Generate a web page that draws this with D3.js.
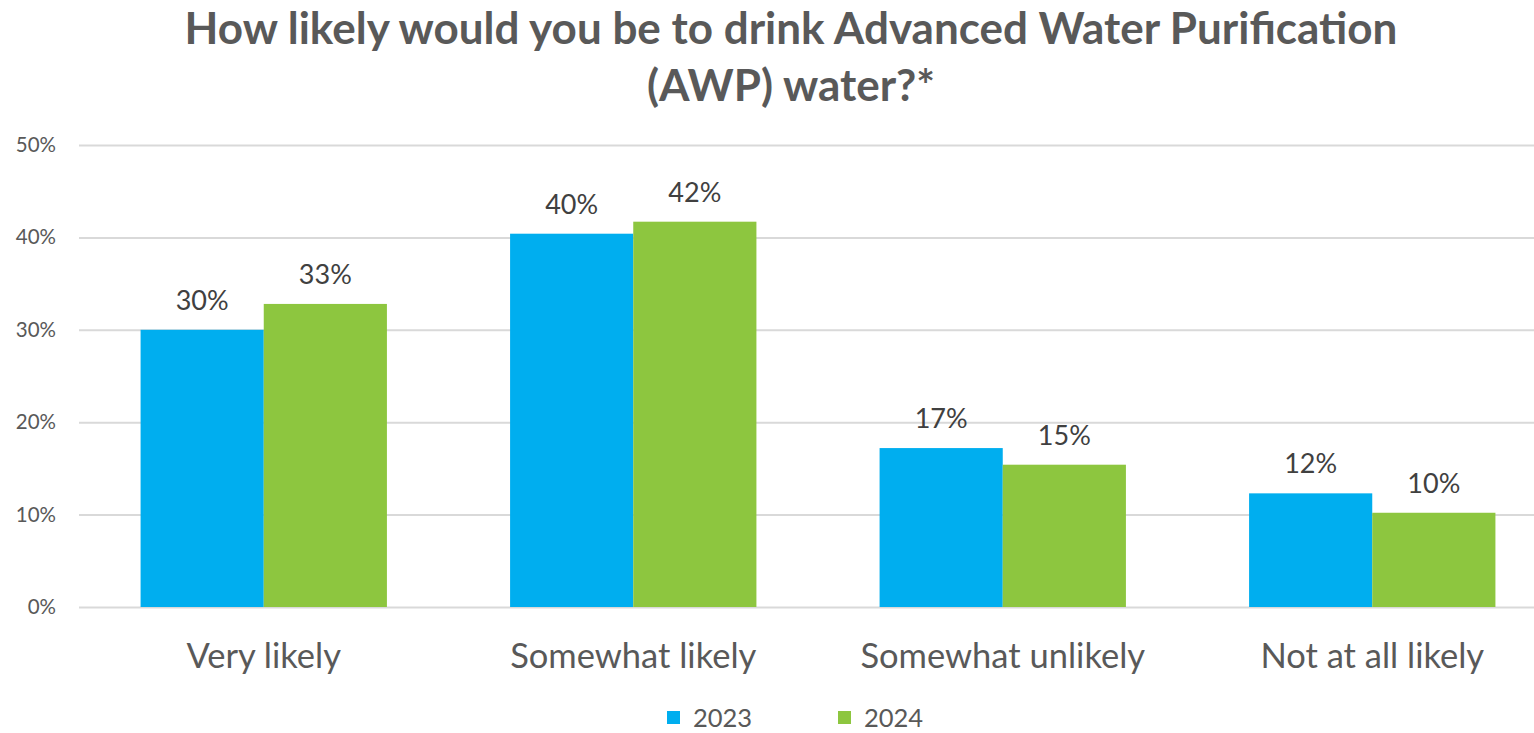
<!DOCTYPE html>
<html>
<head>
<meta charset="utf-8">
<script src="https://cdn.jsdelivr.net/npm/d3@7/dist/d3.min.js"></script>
<style>
  html, body { margin: 0; padding: 0; background: #fff; }
  svg { display: block; font-family: Lato, "Open Sans", sans-serif; }
</style>
</head>
<body>
<svg id="chart" width="1534" height="733"></svg>
<script>
// Survey responses by year (share of respondents)
const categories = ["Very likely", "Somewhat likely", "Somewhat unlikely", "Not at all likely"];
const years = ["2023", "2024"];
const values2023 = [0.300, 0.404, 0.172, 0.123];
const values2024 = [0.328, 0.417, 0.154, 0.102];
const yTicks = [0, 0.1, 0.2, 0.3, 0.4, 0.5];
const titleLines = ["How likely would you be to drink Advanced Water Purification", "(AWP) water?*"];

const colors = { "2023": "#00AEEF", "2024": "#8DC63F" };
const series = { "2023": values2023, "2024": values2024 };

const W = 1534, H = 733;
const margin = { left: 79, right: -23, top: 145, bottom: 126 };
const svg = d3.select("#chart");

const x = d3.scaleBand()
  .domain(categories)
  .range([margin.left, W - margin.right])
  .paddingInner(1 / 3)
  .paddingOuter(1 / 6);

const xs = d3.scaleBand().domain(years).range([0, x.bandwidth()]);

const y = d3.scaleLinear().domain([0, 0.5]).range([H - margin.bottom, margin.top]);

// Title
svg.append("g")
  .selectAll("text")
  .data(titleLines)
  .join("text")
  .attr("x", 791)
  .attr("y", (d, i) => 44 + i * 57)
  .attr("text-anchor", "middle")
  .attr("font-weight", 700)
  .attr("font-size", 44)
  .attr("fill", "#595959")
  .text(d => d);

// Gridlines and y axis labels
const yAxis = d3.axisLeft(y)
  .tickValues(yTicks)
  .tickFormat(d3.format(".0%"))
  .tickSize(-(W - margin.left))
  .tickPadding(23);

const gy = svg.append("g")
  .attr("transform", `translate(${margin.left},0)`)
  .call(yAxis);
gy.select(".domain").remove();
gy.selectAll(".tick line").attr("stroke", "#D9D9D9").attr("stroke-width", 2);
gy.selectAll(".tick text")
  .attr("fill", "#595959")
  .attr("font-size", 20.5)
  .attr("font-family", "Lato, sans-serif");

// Bars
const groups = svg.append("g")
  .selectAll("g")
  .data(categories)
  .join("g")
  .attr("transform", d => `translate(${x(d)},0)`);

const barData = (c, i) => years.map(yr => ({ year: yr, value: series[yr][i] }));

groups.each(function (c, i) {
  const g = d3.select(this);
  const data = barData(c, i);
  g.selectAll("rect")
    .data(data)
    .join("rect")
    .attr("x", d => xs(d.year))
    .attr("y", d => y(d.value))
    .attr("width", xs.bandwidth())
    .attr("height", d => y(0) - y(d.value))
    .attr("fill", d => colors[d.year]);
  g.selectAll("text.value")
    .data(data)
    .join("text")
    .attr("class", "value")
    .attr("x", d => xs(d.year) + xs.bandwidth() / 2)
    .attr("y", d => y(d.value) - 20)
    .attr("text-anchor", "middle")
    .attr("font-size", 27)
    .attr("fill", "#404040")
    .text(d => d3.format(".0%")(d.value));
});

// Category labels
const xAxis = d3.axisBottom(x).tickSize(0).tickPadding(0);
const gx = svg.append("g")
  .attr("transform", `translate(0,${y(0)})`)
  .call(xAxis);
gx.select(".domain").remove();
gx.selectAll(".tick text")
  .attr("dy", null)
  .attr("y", 61)
  .attr("font-size", 34.5)
  .attr("font-family", "Lato, sans-serif")
  .attr("fill", "#595959");

// Legend
const legendX = [667, 838];
const legend = svg.append("g")
  .selectAll("g")
  .data(years)
  .join("g")
  .attr("transform", (d, i) => `translate(${legendX[i]},711)`);
legend.append("rect")
  .attr("width", 13).attr("height", 13)
  .attr("fill", d => colors[d]);
legend.append("text")
  .attr("x", 26)
  .attr("y", 16)
  .attr("font-size", 25.5)
  .attr("fill", "#595959")
  .text(d => d);
</script>
</body>
</html>
